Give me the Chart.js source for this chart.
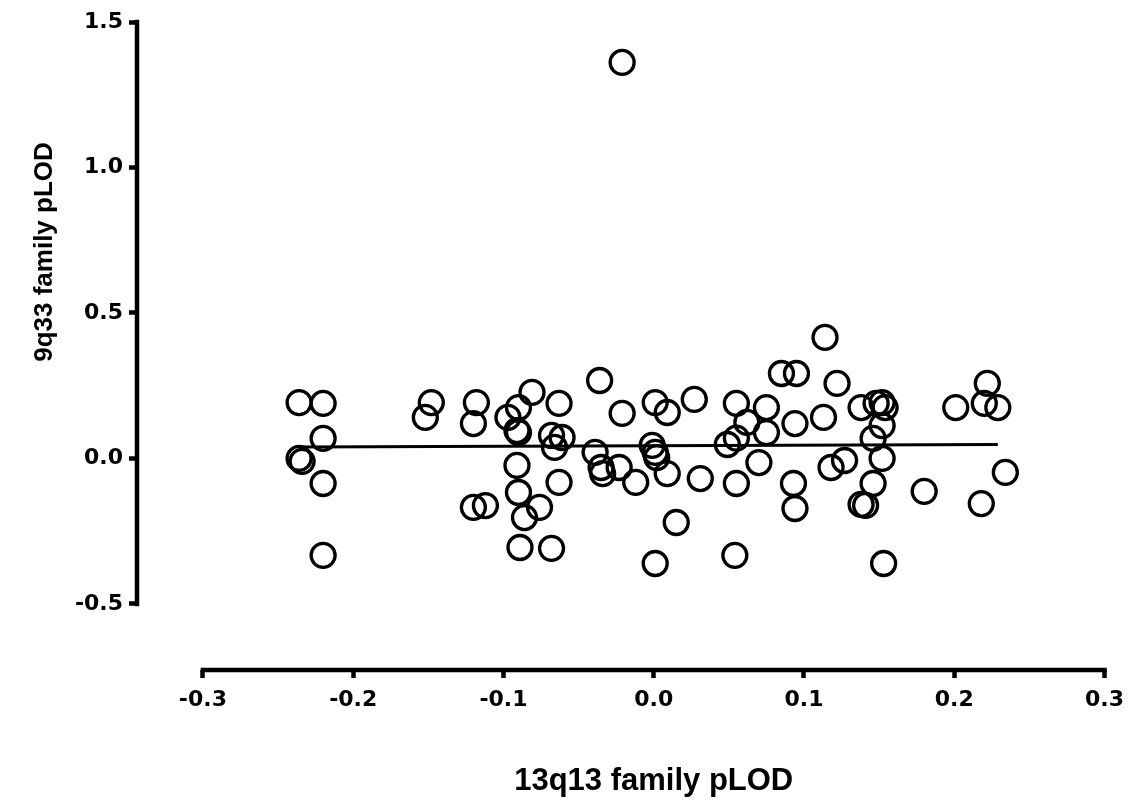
<!DOCTYPE html>
<html>
<head>
<meta charset="utf-8">
<script src="https://cdn.jsdelivr.net/npm/chart.js@4"></script>
<style>
  body { margin: 0; background: #fff; }
</style>
</head>
<body>
<canvas id="myChart" width="1133" height="802"></canvas>
<script>
// 13q13 family pLOD (x) vs 9q33 family pLOD (y), one entry per family
const pLod13 = [
  -0.236, -0.220, -0.220, -0.236, -0.234, -0.220, -0.220,
  -0.148, -0.152, -0.118, -0.120, -0.081, -0.090, -0.097, -0.091, -0.090,
  -0.063, -0.068, -0.066, -0.061, -0.091, -0.090, -0.076, -0.086, -0.120,
  -0.112, -0.089, -0.068, -0.063, -0.036, -0.039, -0.035, -0.034, -0.023,
  -0.021, -0.012, -0.021, 0.001, 0.009, -0.001, 0.001, 0.002, 0.009, 0.015,
  0.001, 0.027, 0.031, 0.055, 0.062, 0.055, 0.049, 0.070, 0.055, 0.054,
  0.075, 0.075, 0.085, 0.095, 0.114, 0.122, 0.094, 0.113, 0.093, 0.094,
  0.118, 0.127, 0.138, 0.148, 0.152, 0.154, 0.152, 0.146, 0.152, 0.146,
  0.138, 0.141, 0.153, 0.180, 0.201, 0.222, 0.220, 0.229, 0.234, 0.218
];
const pLod9 = [
  0.192, 0.189, 0.069, 0.000, -0.010, -0.086, -0.333,
  0.192, 0.141, 0.192, 0.120, 0.227, 0.175, 0.141, 0.096, 0.089,
  0.189, 0.079, 0.038, 0.072, -0.024, -0.117, -0.168, -0.203, -0.168,
  -0.162, -0.306, -0.309, -0.082, 0.268, 0.021, -0.031, -0.052, -0.031,
  0.155, -0.082, 1.361, 0.192, 0.158, 0.045, 0.021, 0.003, -0.052, -0.220,
  -0.361, 0.203, -0.069, 0.189, 0.124, 0.070, 0.048, -0.014, -0.086, -0.333,
  0.175, 0.089, 0.292, 0.292, 0.416, 0.258, 0.120, 0.141, -0.086, -0.172,
  -0.031, -0.007, 0.175, 0.189, 0.192, 0.175, 0.113, 0.069, 0.000, -0.086,
  -0.158, -0.161, -0.361, -0.113, 0.175, 0.258, 0.189, 0.175, -0.048, -0.155
];

// regression line end points
const fitX = [-0.235, 0.229];
const fitY = [0.039, 0.048];

const xTicks = [-0.3, -0.2, -0.1, 0.0, 0.1, 0.2, 0.3];
const yTicks = [-0.5, 0.0, 0.5, 1.0, 1.5];

const xTitle = "13q13 family pLOD";
const yTitle = "9q33 family pLOD";

const tickFont = "'DejaVu Sans', Verdana, sans-serif";
const titleFont = "'Liberation Sans', Arial, Helvetica, sans-serif";

// offset (Prism style) axis lines over the tick range only, plus axis titles
const axisDecor = {
  id: "axisDecor",
  afterDraw(chart) {
    const { ctx, scales: { x, y } } = chart;
    const left = x.getPixelForValue(xTicks[0]);
    const right = x.getPixelForValue(xTicks[xTicks.length - 1]);
    const top = y.getPixelForValue(yTicks[yTicks.length - 1]);
    const bottom = y.getPixelForValue(yTicks[0]);
    ctx.save();
    ctx.strokeStyle = "#000";
    ctx.lineWidth = 4.5;
    ctx.lineCap = "square";
    ctx.beginPath();
    ctx.moveTo(left, x.top);
    ctx.lineTo(right, x.top);
    ctx.moveTo(y.right - 1, top);
    ctx.lineTo(y.right - 1, bottom);
    ctx.stroke();

    ctx.fillStyle = "#000";
    ctx.textAlign = "center";
    ctx.textBaseline = "alphabetic";
    ctx.font = "bold 31px " + titleFont;
    ctx.fillText(xTitle, (left + right) / 2, 790);

    ctx.translate(52, 252);
    ctx.rotate(-Math.PI / 2);
    ctx.font = "bold 26px " + titleFont;
    ctx.fillText(yTitle, 0, 0);
    ctx.restore();
  },
};

const ctx = document.getElementById("myChart").getContext("2d");
new Chart(ctx, {
  type: "scatter",
  data: {
    datasets: [
      {
        data: fitX.map((v, i) => ({ x: v, y: fitY[i] })),
        showLine: true,
        borderColor: "#000",
        borderWidth: 3,
        pointRadius: 0,
        pointHoverRadius: 0,
      },
      {
        data: pLod13.map((v, i) => ({ x: v, y: pLod9[i] })),
        pointRadius: 12,
        pointHoverRadius: 12,
        pointBorderWidth: 3.3,
        pointBorderColor: "#000",
        pointBackgroundColor: "rgba(0,0,0,0)",
      },
    ],
  },
  options: {
    responsive: false,
    animation: false,
    layout: { padding: { top: 22, right: 28, left: 0, bottom: 0 } },
    plugins: { legend: { display: false }, tooltip: { enabled: false } },
    scales: {
      x: {
        type: "linear",
        min: -0.3432,
        max: 0.3,
        afterBuildTicks: (s) => { s.ticks = xTicks.map((v) => ({ value: v })); },
        afterFit: (s) => { s.height = 132; },
        border: { display: false },
        grid: { drawOnChartArea: false, tickLength: 8, tickWidth: 4.5, tickColor: "#000" },
        ticks: {
          color: "#000",
          padding: 9,
          maxRotation: 0,
          font: { family: tickFont, size: 22, weight: "bold" },
          callback: (v) => v.toFixed(1),
        },
      },
      y: {
        type: "linear",
        min: -0.727,
        max: 1.5,
        afterBuildTicks: (s) => { s.ticks = yTicks.map((v) => ({ value: v })); },
        afterFit: (s) => { s.width = 138; },
        border: { display: false },
        grid: { drawOnChartArea: false, tickLength: 9, tickWidth: 4.5, tickColor: "#000" },
        ticks: {
          color: "#000",
          padding: 6,
          font: { family: tickFont, size: 22, weight: "bold" },
          callback: (v) => v.toFixed(1),
        },
      },
    },
  },
  plugins: [axisDecor],
});
</script>
</body>
</html>
